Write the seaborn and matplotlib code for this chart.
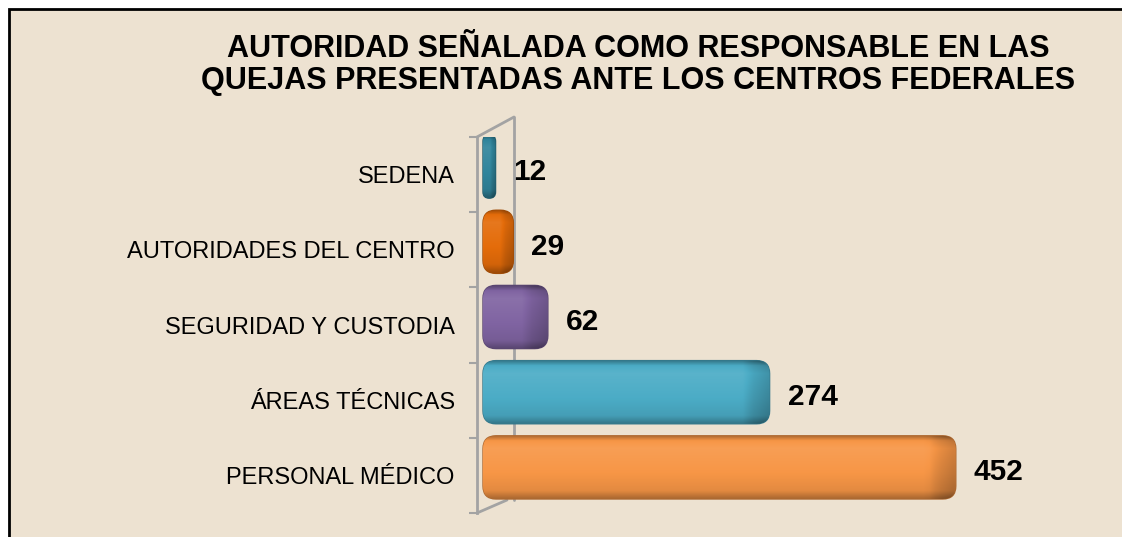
import numpy as np
import matplotlib
matplotlib.use("Agg")
import matplotlib.pyplot as plt
import matplotlib.colors as mcolors
from matplotlib.patches import FancyBboxPatch, Rectangle
from matplotlib.transforms import offset_copy
from matplotlib.lines import Line2D
import seaborn as sns

# Data
categories = ["SEDENA", "AUTORIDADES DEL CENTRO", "SEGURIDAD Y CUSTODIA",
              "ÁREAS TÉCNICAS", "PERSONAL MÉDICO"]
values = [12, 29, 62, 274, 452]
bar_colors = ["#31859C", "#E46C0A", "#8064A2", "#4BACC6", "#F79646"]
title = ("AUTORIDAD SEÑALADA COMO RESPONSABLE EN LAS\n"
         "QUEJAS PRESENTADAS ANTE LOS CENTROS FEDERALES")

sns.set_theme(style="white")
plt.rcParams["font.family"] = ["Liberation Sans", "DejaVu Sans"]

W, H = 1122, 537
BG = "#EDE2D1"
GRID_GREY = "#A3A3A3"
fig = plt.figure(figsize=(W / 100, H / 100), dpi=100)
fig.patch.set_facecolor("white")

# Beige panel with a dark frame on the top and left edges; the panel runs
# past the right and bottom edges of the figure
fx, fy = 8.5 / W, 1 - 8.5 / H
fig.patches.append(Rectangle((fx, -0.1), 1.2, fy + 0.1,
                             transform=fig.transFigure,
                             facecolor=BG, edgecolor="none", zorder=-10))
fig.lines.append(Line2D([fx, fx, 1.2], [-0.1, fy, fy],
                        transform=fig.transFigure,
                        color="black", linewidth=2, solid_joinstyle="miter"))

# Plot area in pixels
ax_l, ax_r, ax_t, ax_b = 477, 1110, 137, 513
ax = fig.add_axes([ax_l / W, 1 - ax_b / H, (ax_r - ax_l) / W, (ax_b - ax_t) / H])
ax.set_facecolor("none")

sns.barplot(x=values, y=categories, hue=categories, palette=bar_colors,
            legend=False, orient="h", width=0.84, ax=ax)

px_per_unit = 1.046
xmin = -6 / px_per_unit
xmax = xmin + (ax_r - ax_l) / px_per_unit
ax.set_xlim(xmin, xmax)
ax.set_ylim(4.5, -0.5)

# Bars sit slightly above the category centre (depth effect)
lift = offset_copy(ax.transData, fig=fig, x=0, y=8, units="dots")

y_per_px = 5 / (ax_b - ax_t)
x_per_px = 1 / px_per_unit
aspect = y_per_px / x_per_px


def shade(color, f):
    c = np.array(mcolors.to_rgb(color))
    if f >= 0:
        return c + (1 - c) * f
    return c * (1 + f)


for patch, col in zip(list(ax.patches), bar_colors):
    x0, y0 = patch.get_x(), patch.get_y()
    w, h = patch.get_width(), patch.get_height()
    patch.set_visible(False)
    r = min(13 * x_per_px, w / 2)
    box = FancyBboxPatch((x0, y0), w, h,
                         boxstyle=f"round,pad=0,rounding_size={r}",
                         mutation_aspect=aspect, facecolor=col,
                         edgecolor=shade(col, -0.3), linewidth=1,
                         transform=lift, zorder=3)
    ax.add_patch(box)
    # Rounded shading: darker top rim, light upper body, darker lower edge
    # and a gradually darkening right-hand end cap
    ny, nx = 40, 80
    rows = np.linspace(0, 1, ny)
    row_f = np.interp(rows, [0, 0.08, 0.2, 0.6, 0.88, 1],
                      [-0.3, 0.0, 0.08, 0.0, -0.08, -0.3])
    w_px = w / x_per_px
    cap_px = min(26, w_px * 0.45)
    cols = np.linspace(0, w_px, nx)
    col_f = np.interp(cols, [0, w_px - cap_px, w_px - cap_px * 0.6, w_px],
                      [0.0, 0.0, -0.12, -0.22])
    img = np.zeros((ny, nx, 3))
    for i in range(ny):
        for j in range(nx):
            img[i, j] = np.clip(shade(col, row_f[i] + col_f[j]), 0, 1)
    im = ax.imshow(img, extent=(x0, x0 + w, y0 + h, y0), aspect="auto",
                   transform=lift, zorder=3.5, interpolation="bilinear")
    im.set_clip_path(box)

# Value labels
label_tr = offset_copy(ax.transData, fig=fig, x=0, y=3, units="dots")
for i, v in enumerate(values):
    ax.annotate(str(v), xy=(v, i), xycoords=label_tr, xytext=(13, 0),
                textcoords="offset points", ha="left", va="center",
                fontsize=21.5, fontweight="bold", color="black", zorder=5)

# Axes styling
for s in ["top", "right", "bottom"]:
    ax.spines[s].set_visible(False)
ax.spines["left"].set_color(GRID_GREY)
ax.spines["left"].set_linewidth(2)
ax.set_xticks([])
ax.set_xlabel("")
ax.set_ylabel("")
ax.tick_params(axis="y", which="major", left=False, length=0, pad=16,
               labelsize=17, labelcolor="black")
ax.set_yticks(np.arange(-0.5, 5, 1), minor=True)
ax.tick_params(axis="y", which="minor", left=True, length=6, width=1.5,
               color=GRID_GREY)

# Back wall and floor edges of the 3D frame
axw, axh = ax_r - ax_l, ax_b - ax_t
back_x = 37 / axw
frame_lines = [
    ([0, back_x], [1, 1 + 20 / axh]),
    ([back_x, back_x], [1 + 20 / axh, 13 / axh]),
    ([0, 30 / axw], [0, 13 / axh]),
]
for xs, ys in frame_lines:
    ax.add_line(Line2D(xs, ys, transform=ax.transAxes, color=GRID_GREY,
                       linewidth=2, clip_on=False, zorder=1))

fig.text(638 / W, 1 - 65 / H, title, ha="center", va="center",
         multialignment="center", fontsize=22, fontweight="bold",
         linespacing=1.1, color="black")

fig.savefig("out.png", dpi=100, facecolor=fig.get_facecolor())
